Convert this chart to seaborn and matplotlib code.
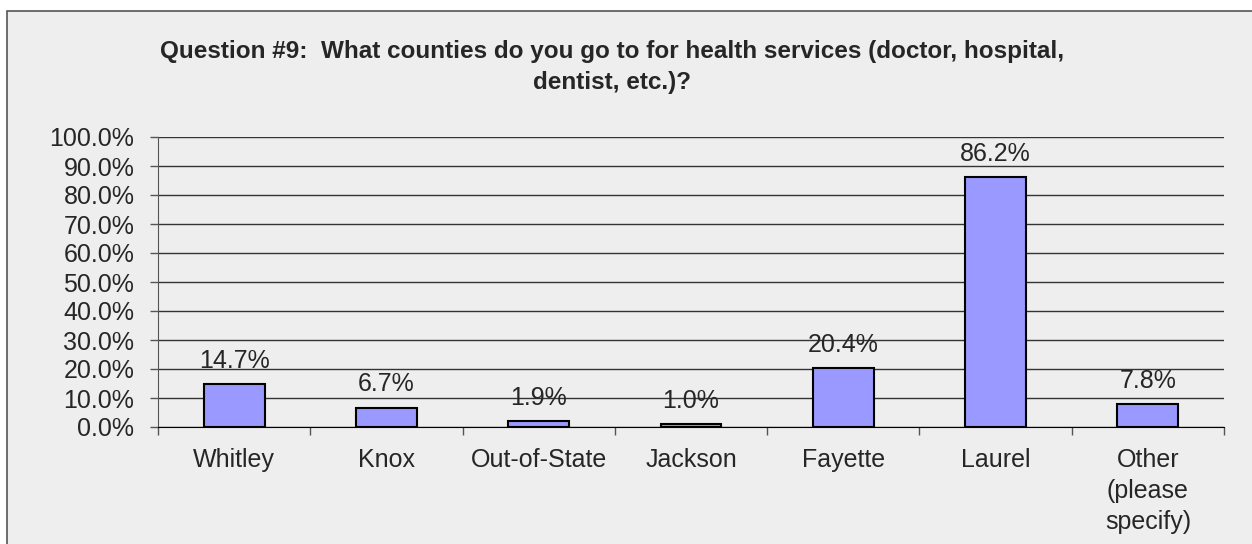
import pandas as pd
import seaborn as sns
from matplotlib import pyplot as plt
from matplotlib.patches import Rectangle
from matplotlib.ticker import FuncFormatter, FixedLocator

counties = ['Whitley', 'Knox', 'Out-of-State', 'Jackson', 'Fayette', 'Laurel',
            'Other\n(please\nspecify)']
percents = [14.7, 6.7, 1.9, 1.0, 20.4, 86.2, 7.8]

df = pd.DataFrame({'County': counties, 'Percent': percents})

sns.set_style('white')
plt.rcParams['font.family'] = ['Liberation Sans', 'DejaVu Sans']

fig = plt.figure(figsize=(12.52, 5.44), dpi=100)
fig.patch.set_facecolor('white')
# outer chart-area frame
fig.patches.append(Rectangle((7 / 1252, -0.01), 1.02, 1 - 11 / 544 + 0.01,
                             transform=fig.transFigure, facecolor='#eeeeee',
                             edgecolor='#555555', linewidth=1.2, zorder=-1))

ax = fig.add_axes([158 / 1252, 1 - 427 / 544, (1224 - 158) / 1252, (427 - 137) / 544])
ax.set_facecolor('none')

sns.barplot(data=df, x='County', y='Percent', color='#9999ff', saturation=1,
            edgecolor='black', linewidth=1.5, width=0.4, ax=ax, zorder=3)

ax.set_ylim(0, 100)
ax.set_xlim(-0.5, len(counties) - 0.5)
ax.set_yticks(range(0, 101, 10))
ax.yaxis.set_major_formatter(FuncFormatter(lambda v, p: f'{v:.1f}%'))
ax.yaxis.grid(True, color='#333333', linewidth=1)
ax.set_axisbelow(True)

# category boundary ticks on x axis
ax.tick_params(axis='x', which='major', length=0, labelsize=18, pad=15)
ax.xaxis.set_minor_locator(FixedLocator([i - 0.5 for i in range(len(counties) + 1)]))
ax.tick_params(axis='x', which='minor', length=6, width=1, color='#555555',
               direction='out', bottom=True)
ax.tick_params(axis='y', length=6, width=1, color='#555555', direction='out',
               left=True, labelsize=18, pad=11)
for lbl in ax.get_xticklabels():
    lbl.set_linespacing(1.38)

for side in ['top', 'right']:
    ax.spines[side].set_visible(False)
ax.spines['left'].set_color('#555555')
ax.spines['bottom'].set_color('black')

ax.bar_label(ax.containers[0], labels=[f'{v:.1f}%' for v in percents],
             fontsize=18, padding=8)

ax.set_xlabel('')
ax.set_ylabel('')

fig.text(612 / 1252, 1 - 67 / 544,
         'Question #9:  What counties do you go to for health services (doctor, hospital,\ndentist, etc.)?',
         ha='center', va='center', fontsize=17.5, fontweight='bold', linespacing=1.4)

plt.savefig('out.png', dpi=100)
